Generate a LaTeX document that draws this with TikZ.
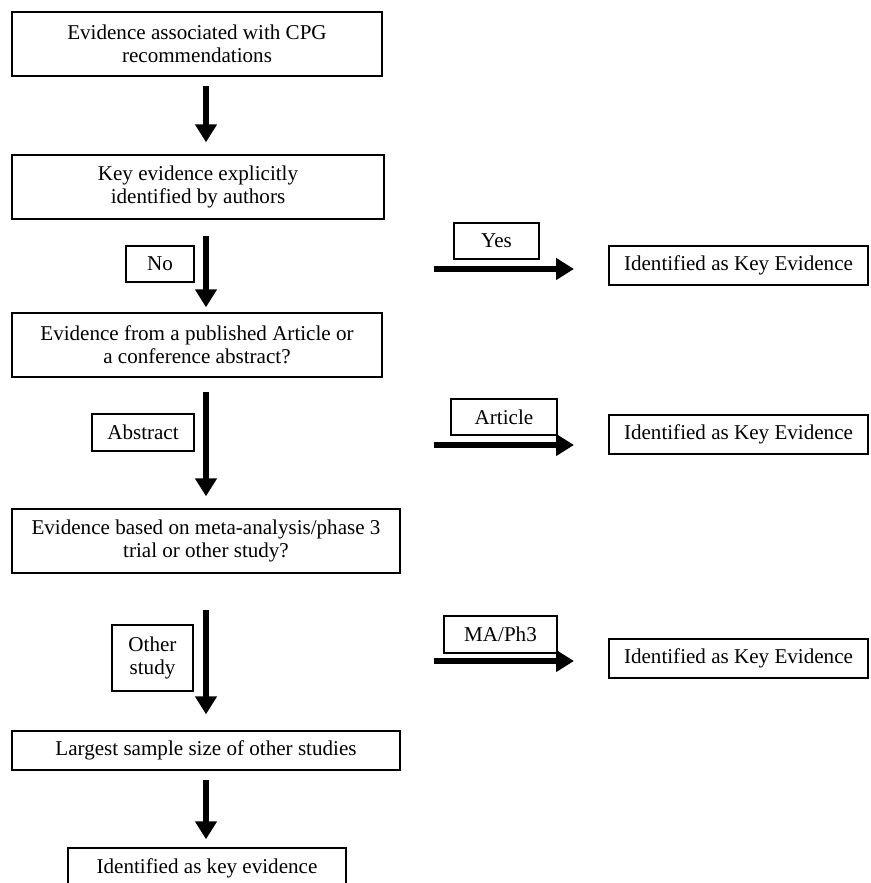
\documentclass[tikz,border=0pt]{standalone}
\usepackage{fontspec}
\setmainfont{Liberation Serif}
\usetikzlibrary{arrows.meta}

\begin{document}
\begin{tikzpicture}[
    x=0.02cm, y=-0.02cm,
    font=\fontsize{12}{13.2}\selectfont,
    stepbox/.style={rectangle, draw, line width=0.8pt, align=center, inner sep=0pt},
    tag/.style={rectangle, draw, line width=0.8pt, align=center, inner sep=0pt},
    result/.style={stepbox, minimum width=5.18cm, minimum height=0.78cm},
    flow/.style={line width=3.4pt, -{Triangle[length=0.36cm, width=0.42cm]}}
]
\useasboundingbox (0,0) rectangle (870,883);

% Main steps
\node[stepbox, minimum width=7.4cm, minimum height=1.28cm] (cpg) at (197,44) {Evidence associated with CPG\\recommendations};
\node[stepbox, minimum width=7.44cm, minimum height=1.28cm] (key) at (198,187) {Key evidence explicitly\\identified by authors};
\node[stepbox, minimum width=7.4cm, minimum height=1.28cm] (src) at (197,345) {Evidence from a published Article or\\a conference abstract?};
\node[stepbox, minimum width=7.76cm, minimum height=1.28cm] (design) at (206,541) {Evidence based on meta-analysis/phase 3\\trial or other study?};
\node[stepbox, minimum width=7.76cm, minimum height=0.78cm] (sample) at (206,750.5) {Largest sample size of other studies};
\node[stepbox, minimum width=5.56cm, minimum height=0.8cm] (final) at (207,868) {Identified as key evidence};

% Branch labels
\node[tag, minimum width=1.36cm, minimum height=0.72cm] (no) at (160,264) {No};
\node[tag, minimum width=2.04cm, minimum height=0.74cm] (abstract) at (143,432.5) {Abstract};
\node[tag, minimum width=1.62cm, minimum height=1.32cm] (other) at (152.5,658) {Other\\study};
\node[tag, minimum width=1.7cm, minimum height=0.72cm] (yes) at (496.5,241) {Yes};
\node[tag, minimum width=2.12cm, minimum height=0.72cm] (article) at (504,417) {Article};
\node[tag, minimum width=2.26cm, minimum height=0.74cm] (maph) at (500.5,634.5) {MA/Ph3};

% Key evidence outcomes
\node[result] (r1) at (738.5,265.5) {Identified as Key Evidence};
\node[result] (r2) at (738.5,434.5) {Identified as Key Evidence};
\node[result] (r3) at (738.5,658.5) {Identified as Key Evidence};

% Down arrows
\coordinate (spine) at (206,0);
\draw[flow, shorten <=0.18cm, shorten >=0.24cm] (cpg.south -| spine) -- (key.north -| spine);
\draw[flow, shorten <=0.32cm, shorten >=0.1cm] (key.south -| spine) -- (src.north -| spine);
\draw[flow, shorten <=0.28cm, shorten >=0.24cm] (src.south -| spine) -- (design.north -| spine);
\draw[flow, shorten <=0.72cm, shorten >=0.32cm] (design.south -| spine) -- (sample.north -| spine);
\draw[flow, shorten <=0.18cm, shorten >=0.16cm] (sample.south -| spine) -- (final.north -| spine);

% Side arrows
\coordinate (yes-a) at (434,269);
\coordinate (yes-b) at (574,269);
\coordinate (art-a) at (434,445);
\coordinate (art-b) at (574,445);
\coordinate (ma-a) at (434,661);
\coordinate (ma-b) at (574,661);
\draw[flow] (yes-a) -- (yes-b);
\draw[flow] (art-a) -- (art-b);
\draw[flow] (ma-a) -- (ma-b);
\end{tikzpicture}
\end{document}
